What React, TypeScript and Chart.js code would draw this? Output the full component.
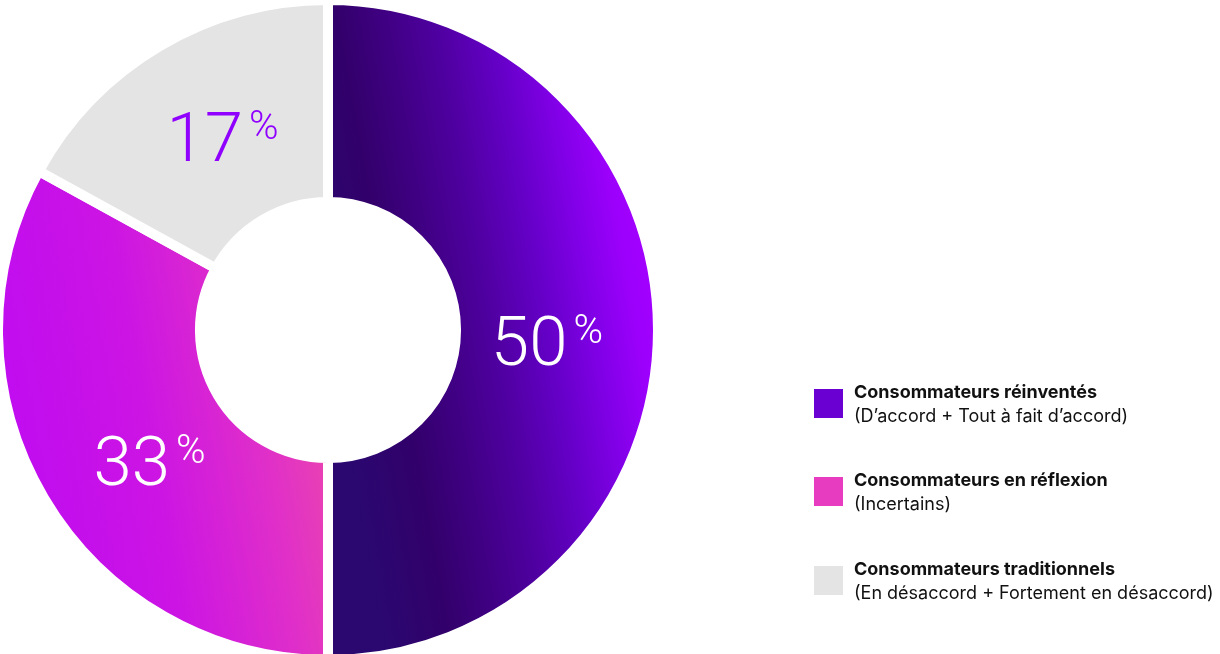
import React, { useEffect, useRef } from "react";
import { Chart, registerables } from "chart.js";

Chart.register(...registerables);

const categories = ["Consommateurs réinventés", "Consommateurs en réflexion", "Consommateurs traditionnels"];
const subLabels = ["(D’accord + Tout à fait d’accord)", "(Incertains)", "(En désaccord + Fortement en désaccord)"];
const values = [50, 33, 17];
const valueTexts = ["50", "33", "17"];
const legendColors = ["#6a00d2", "#e83cc0", "#e4e4e4"];
const valueLabelColors = ["#ffffff", "#ffffff", "#8f00ff"];
const grayColor = "#e4e4e4";

const OUTER = 330;
const LABEL_FONT = "Roboto, 'Open Sans', sans-serif";
const LEGEND_FONT = "Inter, 'Noto Sans', sans-serif";
// small per-label nudges (px) applied to the computed arc centroid
const labelNudgeX = [0, 10, 6];
const labelNudgeY = [10, 19, -6];

function sliceFill(c: any) {
  const index = c.dataIndex;
  const chart = c.chart;
  const area = chart.chartArea;
  if (!area) return legendColors[index];
  const ctx = chart.ctx;
  const cx = (area.left + area.right) / 2;
  const cy = (area.top + area.bottom) / 2;
  if (index === 0) {
    const g = ctx.createLinearGradient(cx, cy + 20, cx + OUTER, cy - 40);
    g.addColorStop(0, "#2a0870");
    g.addColorStop(0.2, "#32006a");
    g.addColorStop(0.35, "#400084");
    g.addColorStop(0.5, "#5000a2");
    g.addColorStop(0.65, "#6400c6");
    g.addColorStop(0.8, "#8200e8");
    g.addColorStop(0.92, "#9c00fc");
    g.addColorStop(1, "#a400ff");
    return g;
  }
  if (index === 1) {
    const g = ctx.createLinearGradient(cx - OUTER, cy + 40, cx, cy - 20);
    g.addColorStop(0, "#c00cf0");
    g.addColorStop(0.4, "#cc14e4");
    g.addColorStop(0.75, "#e030c8");
    g.addColorStop(1, "#ee4aa8");
    return g;
  }
  return grayColor;
}

const valueLabelPlugin = {
  id: "valueLabels",
  afterDatasetsDraw(chart: any) {
    const ctx = chart.ctx;
    const meta = chart.getDatasetMeta(0);
    meta.data.forEach((arc: any, i: number) => {
      const p = arc.getProps(["x", "y", "startAngle", "endAngle", "innerRadius", "outerRadius"], true);
      const mid = (p.startAngle + p.endAngle) / 2;
      const r = p.innerRadius + (p.outerRadius - p.innerRadius) * 0.45;
      const px = p.x + Math.cos(mid) * r + labelNudgeX[i];
      const py = p.y + Math.sin(mid) * r + labelNudgeY[i];
      ctx.save();
      ctx.fillStyle = valueLabelColors[i];
      ctx.textBaseline = "alphabetic";
      ctx.textAlign = "left";
      const bigFont = `normal 300 69px ${LABEL_FONT}`;
      const smallFont = `normal 300 40px ${LABEL_FONT}`;
      ctx.font = bigFont;
      const w1 = ctx.measureText(valueTexts[i]).width;
      ctx.font = smallFont;
      const w2 = ctx.measureText("%").width;
      const gap = 6;
      const total = w1 + gap + w2;
      const x0 = px - total / 2;
      const baseline = py + 25;
      ctx.font = bigFont;
      ctx.fillText(valueTexts[i], x0, baseline);
      ctx.font = smallFont;
      ctx.fillText("%", x0 + w1 + gap, baseline - 22);
      ctx.restore();
    });
  },
};

export default function App() {
  const canvasRef = useRef<HTMLCanvasElement | null>(null);

  useEffect(() => {
    document.body.style.margin = "0";
    const canvas = canvasRef.current;
    if (!canvas) return;
    const chart = new Chart(canvas, {
      type: "doughnut",
      data: {
        labels: categories,
        datasets: [
          {
            data: values,
            backgroundColor: sliceFill as any,
            borderColor: "#ffffff",
            borderWidth: 10,
            borderJoinStyle: "miter",
            hoverOffset: 0,
          } as any,
        ],
      },
      options: {
        responsive: false,
        animation: false,
        devicePixelRatio: 1,
        radius: OUTER,
        cutout: "38.8%",
        layout: { padding: { left: 0, right: 564, top: 6, bottom: 0 } },
        plugins: {
          legend: { display: false },
          tooltip: { enabled: false },
        },
        events: [],
      } as any,
      plugins: [valueLabelPlugin],
    });
    return () => chart.destroy();
  }, []);

  const itemTops = [380, 468, 557];

  return (
    <div style={{ position: "absolute", left: 0, top: 0, width: 1220, height: 654, background: "#fff", overflow: "hidden" }}>
      <canvas ref={canvasRef} width={1220} height={654} style={{ position: "absolute", left: 0, top: 0, width: 1220, height: 654 }} />
      {categories.map((c, i) => (
        <div
          key={c}
          style={{
            position: "absolute",
            left: 814,
            top: itemTops[i],
            display: "flex",
            fontFamily: LEGEND_FONT,
            fontSize: 18,
            lineHeight: "23.5px",
            color: "#111",
          }}
        >
          <div style={{ width: 29, height: 29, background: legendColors[i], marginTop: 9, marginRight: 11, flex: "0 0 auto" }} />
          <div style={{ whiteSpace: "nowrap" }}>
            <div style={{ fontWeight: 700 }}>{c}</div>
            <div style={{ fontWeight: 400 }}>{subLabels[i]}</div>
          </div>
        </div>
      ))}
    </div>
  );
}
